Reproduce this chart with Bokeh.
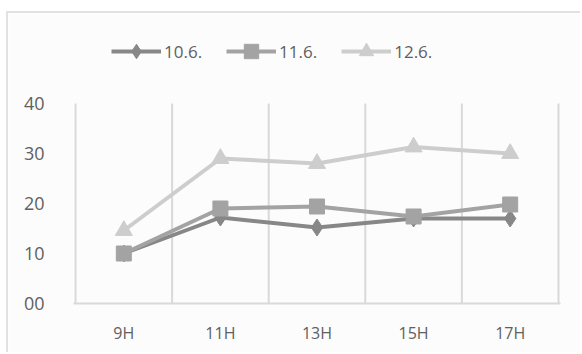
from bokeh.plotting import figure
from bokeh.models import FixedTicker, Range1d, Legend, LegendItem
from bokeh.embed import file_html
from bokeh.resources import INLINE

# Measurements taken at each hour of the day, one series per date
hours = ["9H", "11H", "13H", "15H", "17H"]
series_names = ["10.6.", "11.6.", "12.6."]
values_10_6 = [10, 17.2, 15.2, 17.0, 17.0]
values_11_6 = [10, 19.0, 19.4, 17.4, 19.8]
values_12_6 = [14.6, 29.0, 28.0, 31.3, 30.0]
y_ticks = [0, 10, 20, 30, 40]
y_labels = ["00", "10", "20", "30", "40"]

FONT = "Open Sans"
TEXT = "#606060"
GRID = "#d9d9d9"

x = list(range(len(hours)))
pad = 0.021  # keeps the outer boundary lines inside the frame

p = figure(width=574, height=341, output_backend="svg", toolbar_location=None,
           x_range=Range1d(-0.5 - pad, len(hours) - 0.5 + pad), y_range=Range1d(0, 57.6),
           min_border_left=65, min_border_right=22, min_border_top=2, min_border_bottom=51)
p.margin = (11, 0, 0, 6)
p.styles = {"border-top": "2px solid #e2e2e2", "border-left": "2px solid #e2e2e2"}
p.background_fill_color = "#fcfcfc"
p.border_fill_color = "#fcfcfc"
p.outline_line_color = None
p.grid.grid_line_color = None

# x axis: hour labels at category centres
p.xaxis.ticker = FixedTicker(ticks=x)
p.xaxis.major_label_overrides = {i: h for i, h in enumerate(hours)}
p.xaxis.axis_line_color = GRID
p.xaxis.axis_line_width = 2
p.xaxis.major_tick_line_color = None
p.xaxis.minor_tick_line_color = None
p.xaxis.major_label_standoff = 12
p.xaxis.major_label_text_font = FONT
p.xaxis.major_label_text_font_size = "16px"
p.xaxis.major_label_text_color = TEXT

p.yaxis.ticker = FixedTicker(ticks=y_ticks)
p.yaxis.major_label_overrides = {t: l for t, l in zip(y_ticks, y_labels)}
p.yaxis.axis_line_color = None
p.yaxis.major_tick_line_color = None
p.yaxis.minor_tick_line_color = None
p.yaxis.major_label_standoff = 23
p.yaxis.major_label_text_font = FONT
p.yaxis.major_label_text_font_size = "18px"
p.yaxis.major_label_text_color = TEXT

# vertical separators at the category boundaries, spanning the value axis
bounds = [i - 0.5 for i in range(len(hours) + 1)]
p.segment(x0=bounds, y0=[y_ticks[0]] * len(bounds), x1=bounds, y1=[y_ticks[-1]] * len(bounds),
          line_color=GRID, line_width=2)

styles = [
    (values_10_6, "#878787", "diamond", 17),
    (values_11_6, "#a3a3a3", "square", 15),
    (values_12_6, "#cdcdcd", "triangle", 17),
]

items = []
for name, (vals, color, marker, size) in zip(series_names, styles):
    ln = p.line(x, vals, line_color=color, line_width=4)
    mk = p.scatter(x, vals, marker=marker, size=size, fill_color=color, line_color=color)
    items.append(LegendItem(label=name, renderers=[ln, mk]))

legend = Legend(items=items, orientation="horizontal", location=(38, 234),
                glyph_width=50, glyph_height=36, label_standoff=3, spacing=24,
                padding=0, margin=0, background_fill_alpha=0, border_line_color=None,
                label_text_font=FONT, label_text_font_size="17px", label_text_color=TEXT)
p.add_layout(legend, "center")

open("out.html", "w").write(file_html(p, INLINE))
